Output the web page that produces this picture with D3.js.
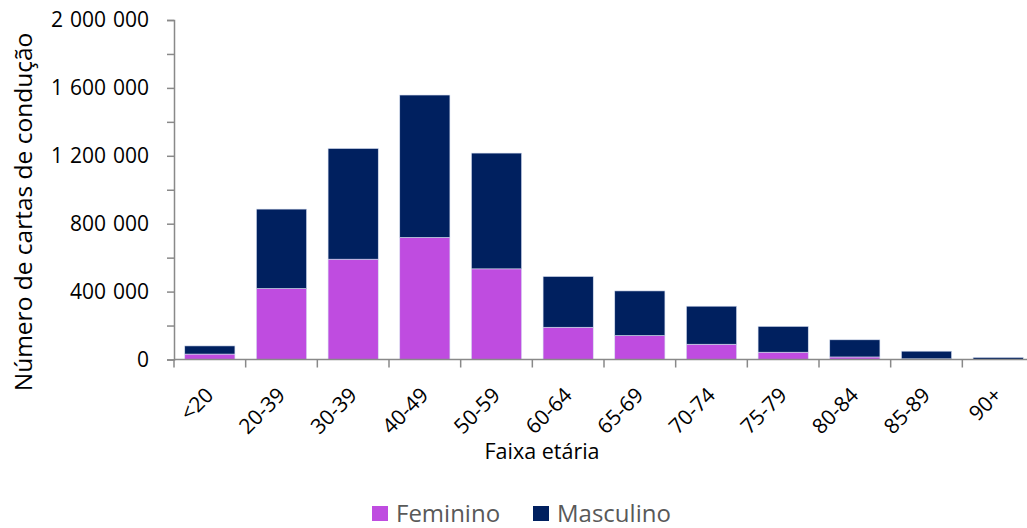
<!DOCTYPE html>
<html>
<head>
<meta charset="utf-8">
<script src="https://cdn.jsdelivr.net/npm/d3@7"></script>
<style>
  html, body { margin: 0; padding: 0; background: #fff; }
  svg { display: block; font-family: "Open Sans", "Noto Sans", sans-serif; }
</style>
</head>
<body>
<svg id="chart" width="1027" height="528"></svg>
<script>
// Age bands and licence counts by sex
const categories = ["<20", "20-39", "30-39", "40-49", "50-59", "60-64", "65-69", "70-74", "75-79", "80-84", "85-89", "90+"];
const feminino  = [32000, 418000, 591000, 719000, 534000, 190000, 141000, 90000, 43000, 15000, 4000, 1000];
const masculino = [48000, 468000, 652000, 839000, 682000, 299000, 263000, 224000, 152000, 101000, 45000, 11000];
const seriesNames = ["Feminino", "Masculino"];
const seriesColors = ["#bf4ce0", "#00205f"];
const yTicks = d3.range(0, 2000001, 200000);

const svg = d3.select("#chart");
const plotLeft = 174, plotRight = 1034, plotTop = 20, plotBottom = 359.5;

const x = d3.scaleBand()
  .domain(categories)
  .range([plotLeft, plotRight])
  .paddingInner(0.3)
  .paddingOuter(0.15);

const y = d3.scaleLinear()
  .domain([0, 2000000])
  .range([plotBottom, plotTop]);

const rows = categories.map((c, i) => ({ cat: c, Feminino: feminino[i], Masculino: masculino[i] }));
const stacked = d3.stack().keys(seriesNames)(rows);

// Bars
svg.append("g")
  .selectAll("g")
  .data(stacked)
  .join("g")
    .attr("fill", (d, i) => seriesColors[i])
  .selectAll("rect")
  .data(d => d)
  .join("rect")
    .attr("x", d => x(d.data.cat))
    .attr("width", x.bandwidth())
    .attr("y", d => y(d[1]))
    .attr("height", d => y(d[0]) - y(d[1]))
    .attr("stroke", "#d6def0")
    .attr("stroke-width", 0.6);

// Y axis
const fmt = d3.formatLocale({ decimal: ",", thousands: " ", grouping: [3], currency: ["", ""] }).format(",");
const yAxis = svg.append("g")
  .attr("transform", `translate(${plotLeft},0)`)
  .call(d3.axisLeft(y)
    .tickValues(yTicks)
    .tickSize(7)
    .tickPadding(18)
    .tickFormat(d => d % 400000 === 0 ? fmt(d) : ""));
yAxis.select(".domain").attr("stroke", "#898989").attr("stroke-width", 1.5);
yAxis.selectAll(".tick line").attr("stroke", "#898989").attr("stroke-width", 1.5);
yAxis.selectAll(".tick text").attr("font-size", 21).attr("fill", "#000")
  .attr("word-spacing", 1.5)
  .attr("font-family", "'Open Sans', sans-serif");

// X axis: boundary ticks between bands
const step = x.step();
const boundaries = categories.map(c => x(c) - step * 0.15);
boundaries.push(plotRight);
const xLine = svg.append("g");
xLine.append("line")
  .attr("x1", plotLeft).attr("x2", plotRight)
  .attr("y1", plotBottom).attr("y2", plotBottom)
  .attr("stroke", "#898989").attr("stroke-width", 1.5);
xLine.selectAll("line.tk")
  .data(boundaries)
  .join("line")
    .attr("class", "tk")
    .attr("x1", d => d).attr("x2", d => d)
    .attr("y1", plotBottom).attr("y2", plotBottom + 8)
    .attr("stroke", "#898989").attr("stroke-width", 1.5);

// X labels, rotated
const xAxis = svg.append("g")
  .attr("transform", `translate(0,${plotBottom})`)
  .call(d3.axisBottom(x).tickSize(0));
xAxis.select(".domain").remove();
xAxis.selectAll(".tick text")
  .attr("x", 0).attr("y", 0).attr("dy", null)
  .attr("text-anchor", "end")
  .attr("transform", "translate(5,37) rotate(-45)")
  .attr("font-size", 21).attr("fill", "#000")
  .attr("font-family", "'Open Sans', sans-serif");

// Axis titles
svg.append("text")
  .attr("x", 542).attr("y", 459)
  .attr("text-anchor", "middle")
  .attr("font-size", 21.5).attr("fill", "#000")
  .text("Faixa etária");

svg.append("text")
  .attr("transform", "translate(32,212) rotate(-90)")
  .attr("text-anchor", "middle")
  .attr("font-size", 24.5).attr("fill", "#000")
  .text("Número de cartas de condução");

// Legend
const legendX = [372, 533];
const legend = svg.append("g");
seriesNames.forEach((name, i) => {
  legend.append("rect")
    .attr("x", legendX[i]).attr("y", 506)
    .attr("width", 16).attr("height", 15)
    .attr("fill", seriesColors[i]);
  legend.append("text")
    .attr("x", legendX[i] + 24).attr("y", 522)
    .attr("font-size", 24).attr("fill", "#595959")
    .text(name);
});
</script>
</body>
</html>
